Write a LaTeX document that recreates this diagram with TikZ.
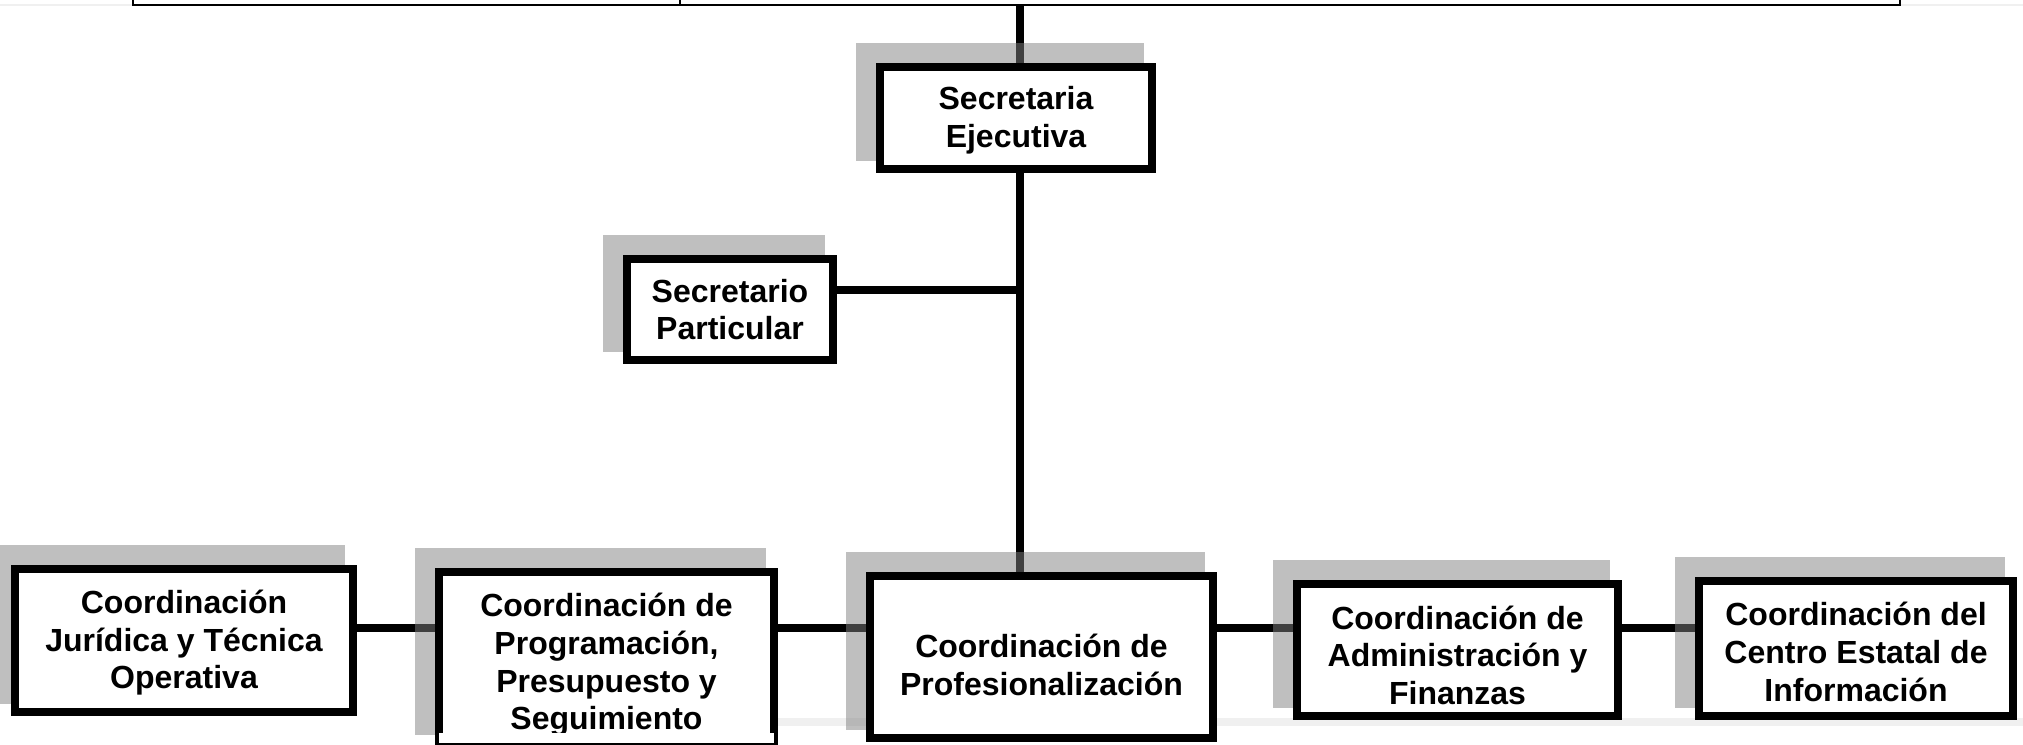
\documentclass[tikz,border=0pt]{standalone}
\usepackage{fontspec}
\setmainfont{Liberation Sans}
\usetikzlibrary{calc}
\pgfdeclarelayer{bgl}
\pgfdeclarelayer{shl}
\pgfsetlayers{bgl,shl,main}
\definecolor{shadowgray}{RGB}{128,128,128}
\definecolor{faintgray}{RGB}{240,240,240}
\tikzset{
  orgbox/.style={draw=black, fill=white, line width=4pt, inner sep=0pt, align=center,
    font=\fontsize{16pt}{18.9pt}\selectfont\bfseries},
  conn/.style={line width=3.75pt, black},
  shadowfill/.style={fill=shadowgray, fill opacity=0.5},
  tableline/.style={line width=1.2pt, black},
  faint/.style={draw=faintgray},
}
\newcommand\boxshadow[1]{\fill[shadowfill] ([shift={(-20.5,-20.5)}]#1.north west) rectangle ([shift={(-12.5,-12.5)}]#1.south east);}
\newcommand\dnstrut[1]{\rule{0pt}{#1}}
\begin{document}
\begin{tikzpicture}[x=0.5pt,y=-0.5pt]
\useasboundingbox (0,0) rectangle (2023,744);

% boxes
\node[orgbox, minimum width=136pt, minimum height=51pt] (SE) at (1016,118) {\dnstrut{13.8pt}Secretaria\\Ejecutiva};
\node[orgbox, minimum width=103pt, minimum height=50.5pt] (SP) at (730,309.5) {Secretario\\Particular};
\node[orgbox, minimum width=169pt, minimum height=71.5pt] (B1) at (184,640.5) {\dnstrut{14pt}Coordinación\\Jurídica y Técnica\\Operativa};
\node[orgbox, minimum width=167.5pt, minimum height=85.5pt] (B2) at (606.5,657.5) {\dnstrut{19pt}Coordinación de\\Programación,\\Presupuesto y\\Seguimiento};
\node[orgbox, minimum width=171.5pt, minimum height=81pt] (B3) at (1041.5,657) {\dnstrut{19.5pt}Coordinación de\\Profesionalización};
\node[orgbox, minimum width=160.5pt, minimum height=66pt] (B4) at (1457.5,650) {\dnstrut{17pt}Coordinación de\\Administración y\\Finanzas};
\node[orgbox, minimum width=157pt, minimum height=67.5pt] (B5) at (1856,648.5) {\dnstrut{15pt}Coordinación del\\Centro Estatal de\\Información};
% text of B2 cut off at the bottom as in the source
\fill[white] ([shift={(4,-14.5)}]B2.south west) rectangle ([shift={(-4,-4)}]B2.south east);

% coordinates
\coordinate (top) at (1020,5);
\coordinate (jSP) at (1020,290);
\coordinate (row) at (0,628);

\begin{pgfonlayer}{bgl}
  % faint page edges
  \draw[faint, line width=1pt] (0,5) -- (2023,5);
  \draw[faint, line width=4pt] (778,722) -- (2023,722);
  % table border at top
  \draw[tableline] (133,0) -- (133,5) -- (1900,5) -- (1900,0);
  \draw[line width=0.8pt] (680,0) -- (680,5);
  % connectors
  \draw[conn] (top) -- (top |- SE.north);
  \draw[conn] (top |- SE.south) -- (top |- B3.north);
  \draw[conn] (jSP) -- (jSP -| SP.east);
  \draw[conn] (B1.east |- row) -- (B2.west |- row);
  \draw[conn] (B2.east |- row) -- (B3.west |- row);
  \draw[conn] (B3.east |- row) -- (B4.west |- row);
  \draw[conn] (B4.east |- row) -- (B5.west |- row);
\end{pgfonlayer}

\begin{pgfonlayer}{shl}
  \boxshadow{SE}
  \boxshadow{SP}
  \boxshadow{B1}
  \boxshadow{B2}
  \boxshadow{B3}
  \boxshadow{B4}
  \boxshadow{B5}
\end{pgfonlayer}
\end{tikzpicture}
\end{document}
